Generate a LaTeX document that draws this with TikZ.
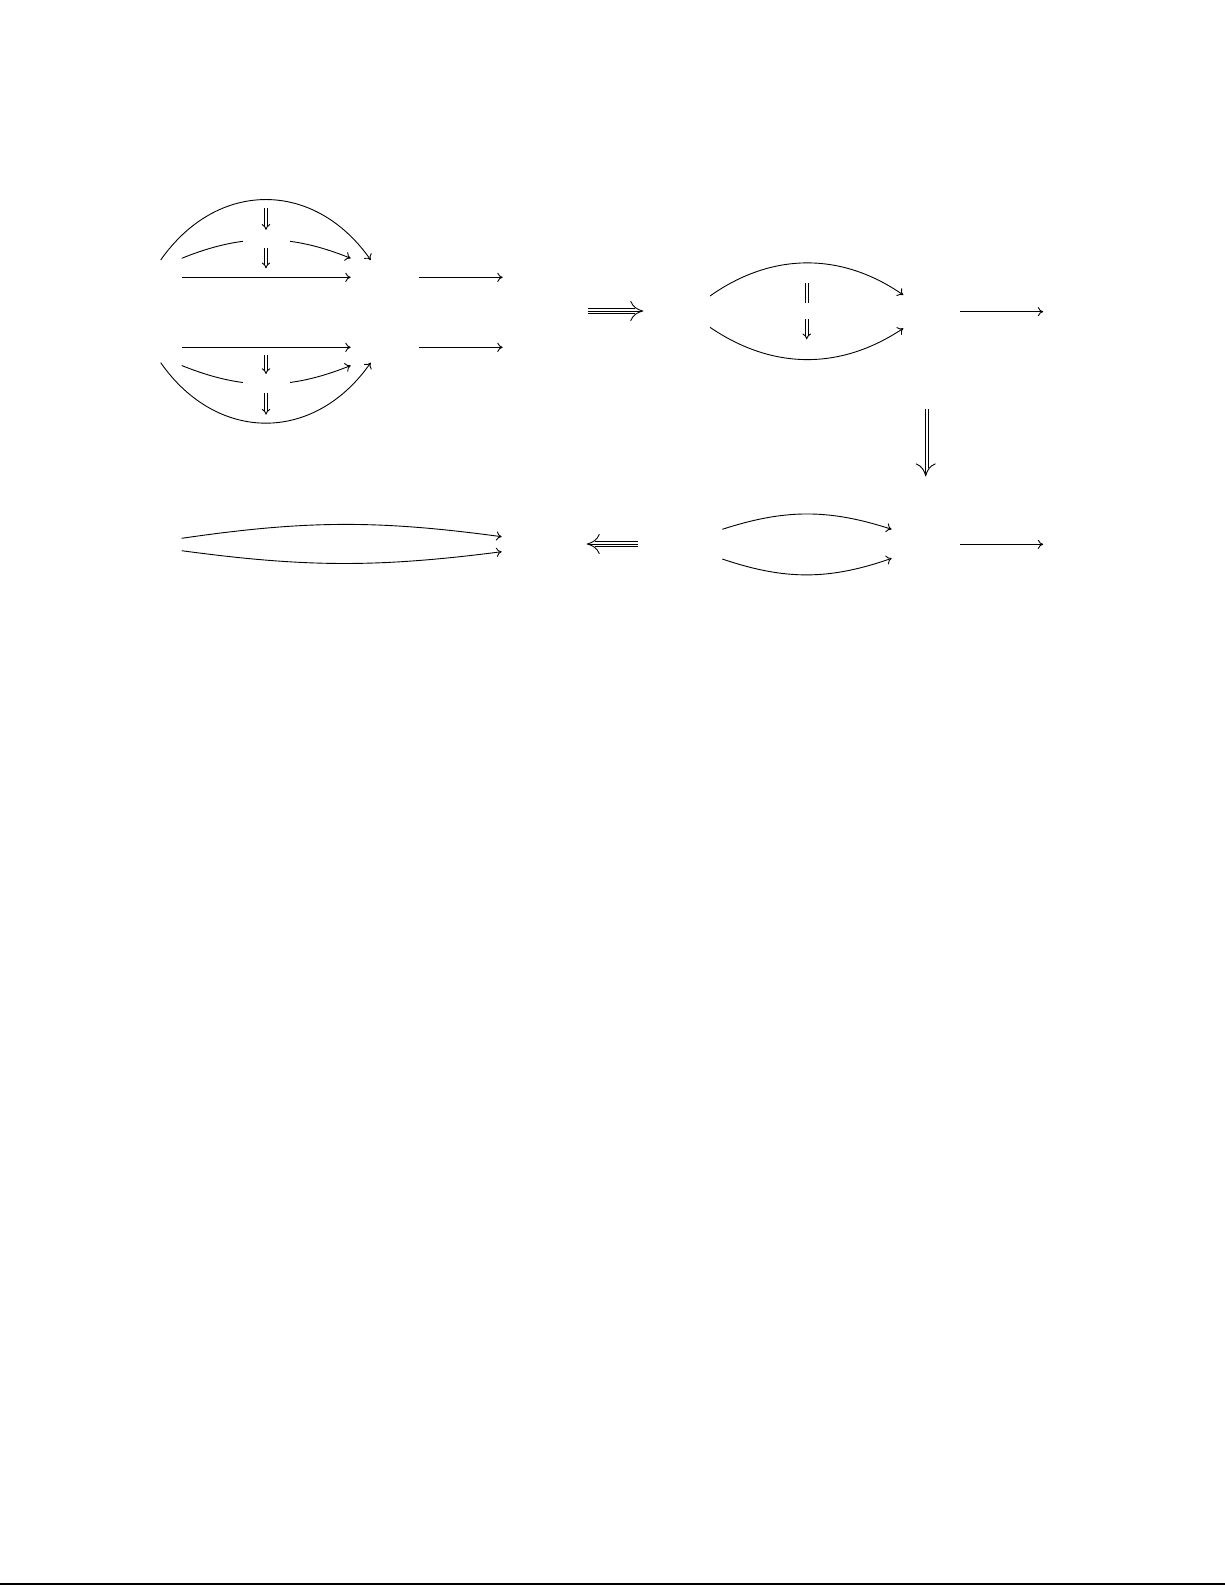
\documentclass[tikz,border=0pt]{standalone}
\usetikzlibrary{positioning, arrows.meta, calc}
\begin{document}
\begin{tikzpicture}[
    x=0.5pt, y=0.5pt, line width=0.45pt,
% Define custom styles for the arrows
    onecell/.style={-{Computer Modern Rightarrow[length=2.7pt, width=4.6pt]}},
    twocell/.style={double, double distance=1pt, -Implies},
    eqcell/.style={double, double distance=1pt},
    threecell/.style={double, double distance=2.3pt, shorten >=4pt},
    threehead/.style={-{Computer Modern Rightarrow[length=6.5pt, width=10pt]}},
    gap/.style={fill=white, inner sep=0pt, minimum width=23.5pt, minimum height=4pt}
]
\useasboundingbox (0,0) rectangle (1225,-1585);

% first block
\coordinate (A1) at (160.7,-260);
\coordinate (B1) at (370.7,-260);
\coordinate (A2) at (181.7,-258.3);
\coordinate (B2) at (350.7,-258.3);
\coordinate (A3) at (181.7,-277.3);
\coordinate (B3) at (350.7,-277.3);
\coordinate (A4) at (181.7,-347.3);
\coordinate (B4) at (350.7,-347.3);
\coordinate (A5) at (181.7,-365.5);
\coordinate (B5) at (350.7,-365.5);
\coordinate (A6) at (160.7,-362.7);
\coordinate (B6) at (370.7,-362.7);

\coordinate (C1) at (418.7,-277.3);
\coordinate[right=42pt of C1] (D1);
\coordinate (C2) at (418.7,-347.3);
\coordinate[right=42pt of C2] (D2);

\coordinate (U1) at (266,-208.3);
\coordinate[below=10.8pt of U1] (V1);
\coordinate (U2) at (266,-248.3);
\coordinate[below=10pt of U2] (V2);
\coordinate (U3) at (266,-355);
\coordinate[below=9.5pt of U3] (V3);
\coordinate (U4) at (266,-392.7);
\coordinate[below=11pt of U4] (V4);

\draw[onecell] (A1) to[out=55, in=125, looseness=1.2] (B1);
\draw[onecell] (A2) to[bend left=22] node[gap] {} (B2);
\draw[onecell] (A3) -- (B3);
\draw[onecell] (A4) -- (B4);
\draw[onecell] (A5) to[bend right=22] node[gap] {} (B5);
\draw[onecell] (A6) to[out=-55, in=-125, looseness=1.2] (B6);

\draw[onecell] (C1) -- (D1);
\draw[onecell] (C2) -- (D2);

\draw[twocell] (U1) -- (V1);
\draw[twocell] (U2) -- (V2);
\draw[twocell] (U3) -- (V3);
\draw[twocell] (U4) -- (V4);

% triple arrow to the right
\coordinate (T1) at (587.7,-311);
\coordinate[right=27.8pt of T1] (T2);
\draw[threecell] (T1) -- (T2);
\draw[threehead] (T1) -- (T2);

% second block
\coordinate (E1) at (710,-296);
\coordinate (F1) at (903.3,-295);
\coordinate (E2) at (710,-327.3);
\coordinate (F2) at (903.3,-328.3);
\coordinate (P1) at (806.7,-283.3);
\coordinate[below=10pt of P1] (P2);
\coordinate (P3) at (806.7,-319.3);
\coordinate[below=10pt of P3] (P4);
\coordinate (G1) at (960,-311.7);
\coordinate[right=41.6pt of G1] (H1);

\draw[onecell] (E1) to[bend left=35] (F1);
\draw[onecell] (E2) to[bend right=34] (F2);
\draw[eqcell] (P1) -- (P2);
\draw[twocell] (P3) -- (P4);
\draw[onecell] (G1) -- (H1);

% triple arrow down
\coordinate (T3) at (925.7,-409);
\coordinate[below=33.7pt of T3] (T4);
\draw[threecell] (T3) -- (T4);
\draw[threehead] (T3) -- (T4);

% third block
\coordinate (E3) at (722.3,-529.3);
\coordinate (F3) at (891.7,-529.3);
\coordinate (E4) at (722.3,-559);
\coordinate (F4) at (891.7,-558.3);
\coordinate (G2) at (960,-544.3);
\coordinate[right=41.6pt of G2] (H2);

\draw[onecell] (E3) to[bend left=18] (F3);
\draw[onecell] (E4) to[bend right=19] (F4);
\draw[onecell] (G2) -- (H2);

% triple arrow to the left
\coordinate (T5) at (637.7,-544);
\coordinate[left=25.5pt of T5] (T6);
\draw[threecell] (T5) -- (T6);
\draw[threehead] (T5) -- (T6);

% fourth block
\coordinate (K1) at (181.7,-538.3);
\coordinate (L1) at (501.7,-536.7);
\coordinate (K2) at (181.7,-550.7);
\coordinate (L2) at (501.7,-551.7);

\draw[onecell] (K1) to[bend left=8] (L1);
\draw[onecell] (K2) to[bend right=7.5] (L2);

% page edge
\coordinate (R1) at (0,-1584);
\coordinate (R2) at (1225,-1584);
\draw[line width=0.8pt] (R1) -- (R2);

\end{tikzpicture}
\end{document}
